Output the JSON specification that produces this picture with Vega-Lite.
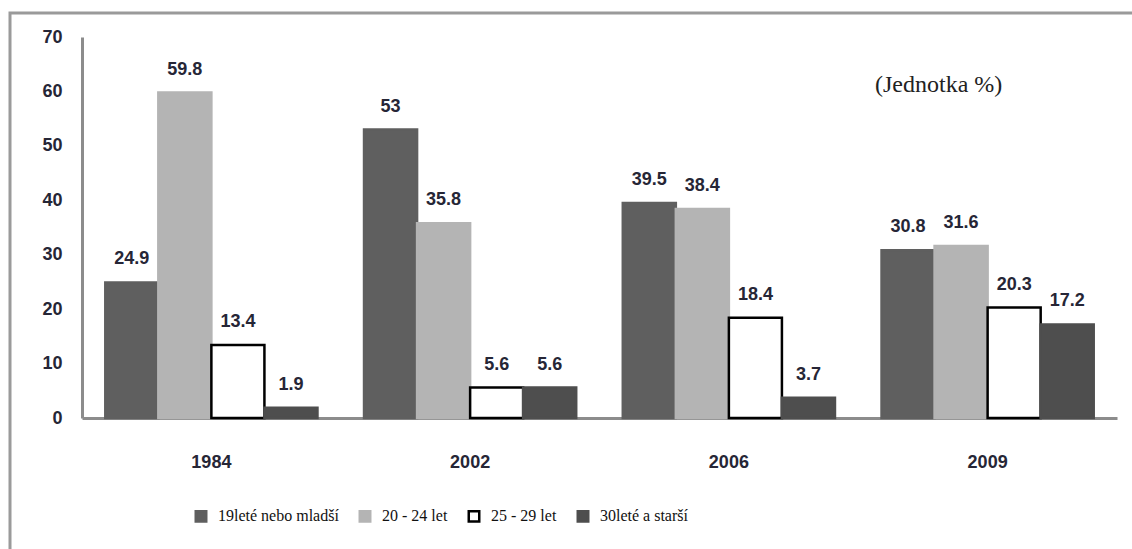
{
  "$schema": "https://vega.github.io/schema/vega-lite/v6.json",
  "autosize": {"type": "none"},
  "padding": {"left": 10, "top": 13, "right": 0, "bottom": 0},
  "width": 1135,
  "height": 545,
  "background": "#ffffff",
  "title": {
    "text": "(Jednotka %)",
    "orient": "top",
    "anchor": "start",
    "frame": "group",
    "dx": 865,
    "offset": -108,
    "baseline": "bottom",
    "font": "Liberation Serif",
    "fontSize": 24,
    "fontWeight": "normal",
    "color": "#222222"
  },
  "data": {
    "values": [
      {"year": "1984", "series": "19leté nebo mladší", "value": 24.9},
      {"year": "1984", "series": "20 - 24 let", "value": 59.8},
      {"year": "1984", "series": "25 - 29 let", "value": 13.4},
      {"year": "1984", "series": "30leté a starší", "value": 1.9},
      {"year": "2002", "series": "19leté nebo mladší", "value": 53},
      {"year": "2002", "series": "20 - 24 let", "value": 35.8},
      {"year": "2002", "series": "25 - 29 let", "value": 5.6},
      {"year": "2002", "series": "30leté a starší", "value": 5.6},
      {"year": "2006", "series": "19leté nebo mladší", "value": 39.5},
      {"year": "2006", "series": "20 - 24 let", "value": 38.4},
      {"year": "2006", "series": "25 - 29 let", "value": 18.4},
      {"year": "2006", "series": "30leté a starší", "value": 3.7},
      {"year": "2009", "series": "19leté nebo mladší", "value": 30.8},
      {"year": "2009", "series": "20 - 24 let", "value": 31.6},
      {"year": "2009", "series": "25 - 29 let", "value": 20.3},
      {"year": "2009", "series": "30leté a starší", "value": 17.2}
    ]
  },
  "encoding": {
    "x": {
      "field": "year",
      "type": "nominal",
      "scale": {"range": [72, 1107], "paddingInner": 0.18, "paddingOuter": 0.09},
      "axis": {
        "title": null,
        "orient": "bottom",
        "offset": -140,
        "ticks": false,
        "labelAngle": 0,
        "labelPadding": 35,
        "labelFont": "Liberation Sans",
        "labelFontWeight": "bold",
        "labelFontSize": 18,
        "labelColor": "#262636",
        "domainColor": "#8c8c8c",
        "domainWidth": 3,
        "grid": false
      }
    },
    "xOffset": {
      "field": "series",
      "type": "nominal",
      "sort": ["19leté nebo mladší", "20 - 24 let", "25 - 29 let", "30leté a starší"],
      "scale": {"paddingInner": 0, "paddingOuter": 0}
    },
    "y": {
      "field": "value",
      "type": "quantitative",
      "scale": {"domain": [0, 70], "range": [405, 24], "nice": false, "zero": true},
      "axis": {
        "title": null,
        "orient": "left",
        "offset": -72,
        "values": [0, 10, 20, 30, 40, 50, 60, 70],
        "ticks": false,
        "grid": false,
        "labelPadding": 20,
        "labelFont": "Liberation Sans",
        "labelFontWeight": "bold",
        "labelFontSize": 18,
        "labelColor": "#262636",
        "domainColor": "#8c8c8c",
        "domainWidth": 3
      }
    }
  },
  "layer": [
    {
      "mark": {"type": "bar", "strokeWidth": 2.5},
      "encoding": {
        "fill": {
          "field": "series",
          "type": "nominal",
          "sort": ["19leté nebo mladší", "20 - 24 let", "25 - 29 let", "30leté a starší"],
          "scale": {
            "domain": ["19leté nebo mladší", "20 - 24 let", "25 - 29 let", "30leté a starší"],
            "range": ["#5f5f5f", "#b4b4b4", "#ffffff", "#4e4e4e"]
          },
          "legend": {"title": null}
        },
        "stroke": {
          "field": "series",
          "type": "nominal",
          "sort": ["19leté nebo mladší", "20 - 24 let", "25 - 29 let", "30leté a starší"],
          "scale": {
            "domain": ["19leté nebo mladší", "20 - 24 let", "25 - 29 let", "30leté a starší"],
            "range": ["#5f5f5f", "#b4b4b4", "#000000", "#4e4e4e"]
          },
          "legend": {"title": null}
        }
      }
    },
    {
      "mark": {
        "type": "text",
        "baseline": "middle",
        "align": "center",
        "dy": -23,
        "font": "Liberation Sans",
        "fontWeight": "bold",
        "fontSize": 18,
        "color": "#262636"
      },
      "encoding": {"text": {"field": "value", "type": "quantitative"}}
    }
  ],
  "config": {
    "view": {"stroke": "#9a9a9a", "strokeWidth": 3},
    "legend": {
      "orient": "none",
      "direction": "horizontal",
      "legendX": 183,
      "legendY": 495,
      "symbolType": "square",
      "symbolSize": 110,
      "symbolStrokeWidth": 2.5,
      "labelFont": "Liberation Serif",
      "labelFontSize": 16,
      "labelColor": "#111111",
      "labelOffset": 9,
      "columnPadding": 15,
      "padding": 0
    }
  }
}
